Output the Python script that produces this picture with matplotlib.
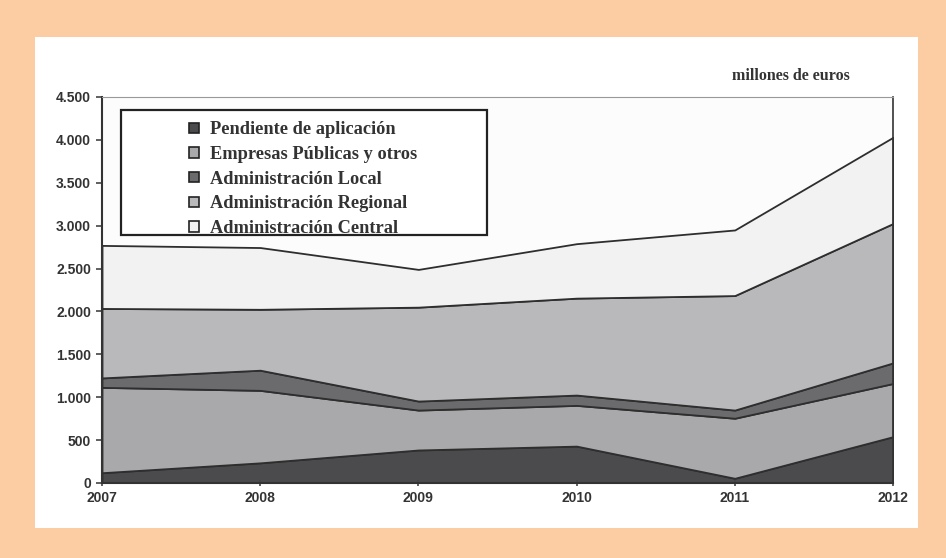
import matplotlib
matplotlib.use("Agg")
import matplotlib.pyplot as plt
from matplotlib.patches import Patch, Rectangle

# datos (millones de euros), de abajo a arriba
years = [2007, 2008, 2009, 2010, 2011, 2012]
pendiente = [120, 235, 385, 430, 55, 540]
empresas = [995, 845, 465, 475, 700, 620]
local = [110, 235, 105, 120, 95, 240]
regional = [810, 710, 1095, 1130, 1335, 1625]
central = [735, 720, 440, 635, 765, 1005]

labels = ["Pendiente de aplicación", "Empresas Públicas y otros",
          "Administración Local", "Administración Regional",
          "Administración Central"]
colors = ["#4b4b4d", "#a9a9ab", "#6b6b6d", "#b9b9bb", "#f2f2f3"]

yticks = [0, 500, 1000, 1500, 2000, 2500, 3000, 3500, 4000, 4500]
ytick_labels = ["0", "500", "1.000", "1.500", "2.000", "2.500", "3.000",
                "3.500", "4.000", "4.500"]

fig = plt.figure(figsize=(9.46, 5.58), dpi=100)
fig.patch.set_facecolor("#fccca2")
# panel blanco
fig.patches.append(Rectangle((35 / 946, 30 / 558), 883 / 946, 491 / 558,
                             transform=fig.transFigure, facecolor="white",
                             edgecolor="none", zorder=-10))

ax = fig.add_axes([102 / 946, 75 / 558, 791 / 946, 386 / 558])
ax.set_facecolor("#fcfcfc")

ax.stackplot(years, pendiente, empresas, local, regional, central,
             colors=colors, edgecolor="#2e2e2e", linewidth=1.3)

ax.set_xlim(2007, 2012)
ax.set_ylim(0, 4500)
ax.set_xticks(years)
ax.set_yticks(yticks)
ax.set_yticklabels(ytick_labels)
for lab in ax.get_xticklabels() + ax.get_yticklabels():
    lab.set_fontfamily("Liberation Sans")
    lab.set_fontweight("bold")
    lab.set_fontsize(10)
    lab.set_color("#333333")
ax.tick_params(axis="y", length=4, width=1.2, color="#444444", pad=4)
ax.tick_params(axis="x", length=5, width=1.2, color="#444444",
               direction="inout", pad=3)
ax.spines["left"].set_color("#333333")
ax.spines["left"].set_linewidth(1.5)
ax.spines["bottom"].set_color("#333333")
ax.spines["bottom"].set_linewidth(1.5)
ax.spines["top"].set_color("#999999")
ax.spines["right"].set_color("#333333")
ax.spines["right"].set_linewidth(1.2)

# caja de la leyenda
ax.add_patch(Rectangle((19 / 791, (483 - 235) / 386), 366 / 791, 125 / 386,
                       transform=ax.transAxes, facecolor="white",
                       edgecolor="#222222", linewidth=1.6, zorder=5))
handles = [Patch(facecolor=c, edgecolor="#222222", linewidth=1.2) for c in colors]
leg = ax.legend(handles, labels, loc="upper left",
                bbox_to_anchor=(80 / 791, (483 - 114) / 386), frameon=False,
                prop={"family": "Liberation Serif", "weight": "bold", "size": 13.2},
                handlelength=0.5, handleheight=0.5, handletextpad=0.6,
                labelspacing=0.42, borderaxespad=0)
leg.set_zorder(6)
for t in leg.get_texts():
    t.set_color("#333333")

fig.text(791 / 946, 1 - 76 / 558, "millones de euros", ha="center", va="center",
         fontfamily="Liberation Serif", fontweight="bold", fontsize=11.5,
         color="#333333")

fig.savefig("out.png", dpi=100, facecolor=fig.get_facecolor())
